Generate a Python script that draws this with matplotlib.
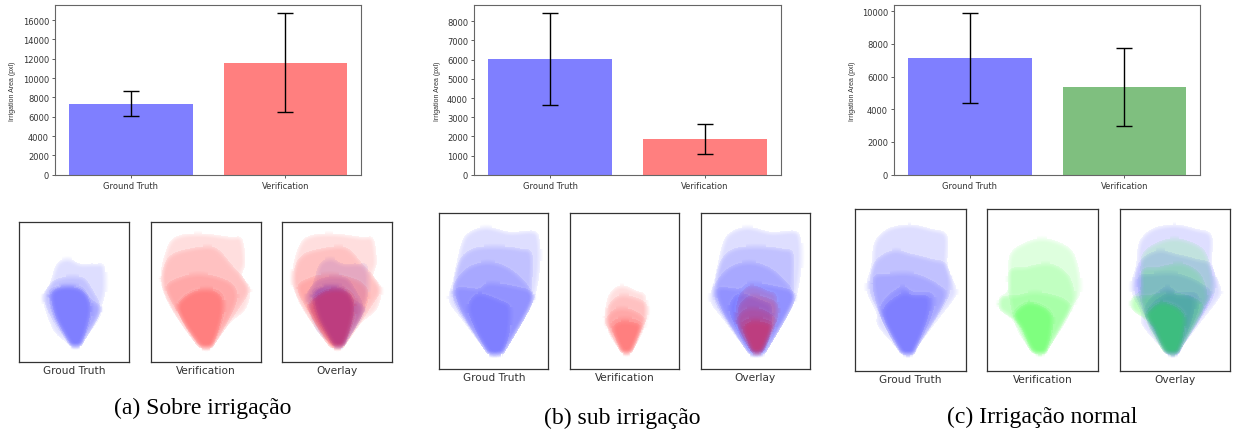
import matplotlib
matplotlib.use("Agg")
import matplotlib.pyplot as plt
import numpy as np
from matplotlib.patches import PathPatch
from matplotlib.path import Path

W, H = 1233, 431

categories = ["Ground Truth", "Verification"]
panel_labels = ["Groud Truth", "Verification", "Overlay"]
captions = ["(a) Sobre irrigação", "(b) sub irrigação", "(c) Irrigação normal"]

# bar heights and error bars
means_a = [7350, 11600]
errs_a = [1315, 5125]
means_b = [6030, 1860]
errs_b = [2400, 765]
means_c = [7120, 5360]
errs_c = [2755, 2385]

yticks_a = [0, 2000, 4000, 6000, 8000, 10000, 12000, 14000, 16000]
yticks_b = [0, 1000, 2000, 3000, 4000, 5000, 6000, 7000, 8000]
yticks_c = [0, 2000, 4000, 6000, 8000, 10000]

# blob outlines, one list per mask layer, traced from a 3x zoom of each box
a_gt = [
    [(150, 225), (172, 165), (205, 150), (240, 165), (285, 165), (312, 172), (316, 240), (305, 290), (298, 325), (258, 385), (242, 410), (216, 412), (198, 398), (160, 360), (130, 270)],
    [(152, 225), (170, 212), (207, 203), (250, 208), (275, 240), (300, 290), (295, 322), (252, 395), (240, 411), (216, 412), (203, 398), (155, 325), (133, 265)],
    [(147, 255), (165, 235), (205, 228), (245, 235), (272, 270), (300, 295), (290, 330), (250, 398), (240, 411), (216, 412), (203, 398), (160, 320)],
    [(150, 260), (170, 238), (205, 232), (240, 238), (265, 262), (275, 310), (250, 396), (240, 410), (216, 411), (205, 398), (165, 325)],
    [(155, 262), (172, 240), (205, 235), (238, 242), (262, 265), (270, 310), (248, 394), (238, 408), (218, 409), (207, 396), (170, 325)],
]
a_ver = [
    [(505, 110), (540, 80), (610, 75), (690, 85), (725, 90), (735, 160), (725, 200), (750, 240), (735, 300), (690, 340), (646, 400), (632, 416), (604, 416), (586, 400), (545, 345), (500, 270), (483, 200)],
    [(490, 180), (520, 135), (600, 115), (650, 120), (700, 175), (728, 205), (745, 245), (720, 290), (646, 400), (632, 416), (604, 416), (586, 400), (530, 320), (490, 240)],
    [(500, 240), (530, 210), (600, 195), (680, 215), (710, 250), (700, 300), (646, 400), (632, 416), (604, 416), (586, 400), (540, 320)],
    [(533, 285), (580, 245), (640, 240), (670, 265), (670, 320), (644, 398), (632, 414), (604, 414), (590, 398), (550, 340)],
    [(535, 290), (580, 250), (635, 245), (665, 270), (665, 320), (642, 398), (630, 412), (606, 412), (592, 398), (552, 340)],
]
b_gt = [
    [(125, 120), (150, 85), (200, 70), (270, 85), (340, 82), (358, 110), (358, 200), (335, 300), (258, 435), (244, 450), (210, 451), (190, 430), (130, 350), (88, 290), (100, 230)],
    [(120, 170), (160, 135), (230, 128), (300, 135), (335, 150), (335, 250), (335, 300), (258, 435), (244, 450), (210, 451), (190, 430), (110, 310), (100, 250)],
    [(100, 250), (140, 195), (200, 175), (260, 190), (310, 230), (335, 270), (330, 310), (258, 435), (244, 450), (210, 451), (190, 430), (115, 310)],
    [(110, 255), (175, 255), (205, 238), (270, 245), (335, 265), (330, 310), (258, 435), (244, 450), (210, 451), (190, 430), (125, 320)],
    [(145, 310), (175, 270), (240, 290), (270, 310), (268, 380), (254, 432), (242, 447), (212, 448), (196, 430), (165, 370)],
]
b_ver = [
    [(565, 280), (590, 250), (615, 247), (650, 262), (675, 275), (680, 340), (665, 370), (644, 428), (630, 447), (608, 447), (596, 432), (570, 380), (555, 345)],
    [(565, 310), (600, 275), (640, 280), (678, 300), (678, 345), (644, 428), (630, 447), (608, 447), (596, 432), (565, 380)],
    [(560, 345), (590, 315), (640, 320), (675, 355), (644, 428), (630, 447), (608, 447), (596, 432), (565, 375)],
    [(575, 365), (595, 345), (635, 345), (665, 365), (642, 428), (630, 445), (608, 445), (598, 432)],
    [(580, 375), (600, 355), (632, 355), (660, 370), (640, 428), (628, 443), (610, 443), (600, 430)],
]
c_gt = [
    [(135, 130), (175, 90), (240, 78), (300, 90), (350, 110), (352, 200), (378, 270), (370, 300), (320, 365), (264, 440), (250, 465), (220, 466), (200, 445), (145, 380), (140, 340), (110, 270), (125, 200)],
    [(135, 190), (190, 155), (240, 165), (300, 180), (350, 200), (355, 290), (264, 440), (250, 465), (220, 466), (200, 445), (150, 345), (120, 270)],
    [(130, 240), (180, 225), (250, 225), (320, 255), (345, 300), (264, 440), (250, 464), (220, 465), (200, 445), (150, 345)],
    [(150, 335), (210, 265), (250, 280), (305, 285), (310, 330), (264, 440), (250, 464), (220, 465), (203, 445)],
    [(160, 340), (215, 285), (250, 290), (295, 295), (295, 345), (260, 440), (248, 462), (222, 463), (207, 445)],
]
c_ver = [
    [(540, 170), (590, 130), (650, 120), (720, 150), (745, 210), (750, 280), (720, 330), (662, 438), (646, 464), (614, 464), (596, 445), (560, 370), (510, 330), (510, 295), (535, 270)],
    [(535, 225), (590, 205), (660, 195), (715, 230), (735, 300), (720, 340), (660, 440), (645, 463), (615, 463), (596, 445), (555, 370)],
    [(515, 295), (560, 290), (620, 280), (700, 300), (720, 340), (660, 440), (645, 463), (615, 463), (596, 445), (550, 365), (510, 330)],
    [(550, 345), (590, 310), (640, 320), (668, 350), (665, 410), (655, 445), (644, 462), (616, 462), (600, 445), (575, 390)],
    [(555, 350), (592, 315), (638, 325), (665, 355), (660, 410), (652, 445), (642, 460), (618, 460), (602, 445), (578, 390)],
]

fig = plt.figure(figsize=(W / 100, H / 100), dpi=100)


def px_axes(x0, y0, x1, y1):
    # axes from pixel box, y measured from the top of the image
    return fig.add_axes([x0 / W, 1 - y1 / H, (x1 - x0) / W, (y1 - y0) / H])


def soften(img, dpi, radius=3):
    # box blur on the alpha channel only, gives the masks their soft edge
    img = np.pad(img, ((radius, radius), (radius, radius), (0, 0)), mode="edge")
    img[:radius, :, 3] = img[-radius:, :, 3] = 0
    img[:, :radius, 3] = img[:, -radius:, 3] = 0
    kernel = np.ones(2 * radius + 1) / (2 * radius + 1)
    alpha = img[:, :, 3]
    alpha = np.apply_along_axis(np.convolve, 0, alpha, kernel, mode="same")
    alpha = np.apply_along_axis(np.convolve, 1, alpha, kernel, mode="same")
    img[:, :, 3] = alpha
    return img, -radius, -radius


def blob_path(points, origin):
    # closed cubic curve that passes through the traced points
    pts = np.array(points, dtype=float) - origin
    prev = np.roll(pts, 1, axis=0)
    nxt = np.roll(pts, -1, axis=0)
    nxt2 = np.roll(pts, -2, axis=0)
    c1 = pts + (nxt - prev) / 6
    c2 = nxt - (nxt2 - pts) / 6
    verts = [pts[0]]
    codes = [Path.MOVETO]
    for a, b, p in zip(c1, c2, nxt):
        verts += [a, b, p]
        codes += [Path.CURVE4, Path.CURVE4, Path.CURVE4]
    return Path(verts, codes)


def draw_mask(ax, layers, origin, color):
    for layer in layers:
        patch = PathPatch(blob_path(layer, origin), facecolor=color, edgecolor="none", alpha=0.13)
        patch.set_agg_filter(soften)
        ax.add_patch(patch)


def bar_panel(box, means, errs, yticks, color2):
    ax = px_axes(*box)
    ax.bar(categories, means, yerr=errs, color=["blue", color2], alpha=0.5, width=0.8,
           capsize=6, error_kw=dict(ecolor="black", elinewidth=1, capthick=1, alpha=1))
    ax.set_yticks(yticks)
    ax.set_ylabel("Irrigation Area (pxl)", fontsize=5, family="Liberation Sans", color="#333333", labelpad=4.5)
    ax.tick_params(labelsize=6, labelcolor="#333333", length=2.5, width=0.6, pad=2, color="#444444")
    for s in ax.spines.values():
        s.set_color("#666666")
        s.set_linewidth(0.8)


def mask_panels(boxes, gt, ver, gt_origin, ver_origin, color2, label_y):
    contents = [[(gt, gt_origin, "blue")],
                [(ver, ver_origin, color2)],
                [(gt, gt_origin, "blue"), (ver, ver_origin, color2)]]
    for box, label, content in zip(boxes, panel_labels, contents):
        ax = px_axes(*box)
        ax.set_xlim(0, (box[2] - box[0]) * 3)
        ax.set_ylim((box[3] - box[1]) * 3, 0)
        ax.set_xticks([])
        ax.set_yticks([])
        for s in ax.spines.values():
            s.set_color("#333333")
            s.set_linewidth(0.9)
        for layers, origin, color in content:
            draw_mask(ax, layers, origin, color)
        fig.text((box[0] + box[2]) / 2 / W, 1 - label_y / H, label, ha="center", va="center",
                 fontsize=7.6, color="#333333")


# bar charts
bar_panel((55.3, 6, 361, 175.7), means_a, errs_a, yticks_a, "red")
bar_panel((474.3, 6, 781, 175.7), means_b, errs_b, yticks_b, "red")
bar_panel((894.3, 6, 1200, 175.7), means_c, errs_c, yticks_c, "green")

# mask images
mask_panels([(19.3, 222.7, 129.3, 362.7), (151, 222.7, 261, 362.7), (282.3, 222.7, 392.3, 362.7)],
            a_gt, a_ver, (58, 38), (453, 38), "red", 370.7)
mask_panels([(439.3, 214.3, 548.3, 370), (570, 214.3, 679.3, 370), (700.7, 214.3, 810, 370)],
            b_gt, b_ver, (58, 28), (450, 28), "red", 378)
mask_panels([(855, 210.3, 965.7, 372.3), (987.3, 210.3, 1098, 372.3), (1119.7, 210.3, 1230.3, 372.3)],
            c_gt, c_ver, (75, 31), (472, 31), "lime", 380)

# sub-figure captions
for x, y, text in zip([203, 622, 1041.7], [408, 418, 417], captions):
    fig.text(x / W, 1 - y / H, text, ha="center", va="center", fontsize=17,
             family="Liberation Serif", color="black")

fig.savefig("out.png", dpi=100)
